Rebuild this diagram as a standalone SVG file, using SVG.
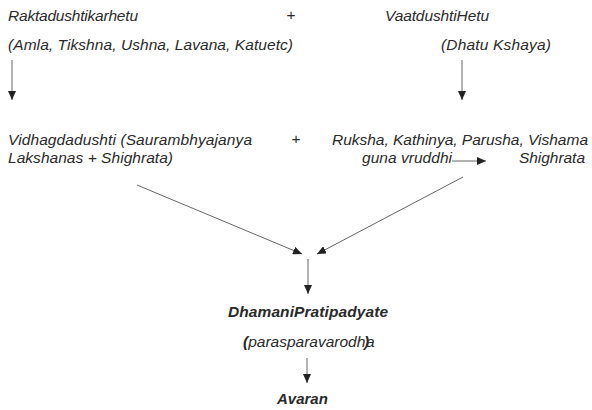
<svg xmlns="http://www.w3.org/2000/svg" width="592" height="410" viewBox="0 0 592 410">
<defs>
<marker id="ah" viewBox="0 0 9 8" refX="9" refY="4" markerWidth="9" markerHeight="8" markerUnits="userSpaceOnUse" orient="auto">
<path d="M0,0 L9,4 L0,8 z" fill="#222"/>
</marker>
<style>
text{font-family:"Liberation Sans",Arial,sans-serif;font-size:15.5px;font-style:italic;fill:#2a2a2a}
.b{font-weight:bold}
.u{font-style:normal}
.c line{stroke:#666;stroke-width:1;marker-end:url(#ah)}
</style>
</defs>
<rect width="592" height="410" fill="#fff"/>
<g id="n1"><text x="8" y="21" textLength="130">Raktadushtikarhetu</text><text x="8" y="50" textLength="285">(Amla, Tikshna, Ushna, Lavana, Katuetc)</text></g>
<g id="p1"><text class="u" x="291" y="20" text-anchor="middle">+</text></g>
<g id="n2"><text x="385" y="21" textLength="104">VaatdushtiHetu</text><text x="441" y="50" textLength="110">(Dhatu Kshaya)</text></g>
<g id="n3"><text x="8" y="145" textLength="244">Vidhagdadushti (Saurambhyajanya</text><text x="8" y="163" textLength="165">Lakshanas + Shighrata)</text></g>
<g id="p2"><text class="u" x="296" y="144" text-anchor="middle">+</text></g>
<g id="n4"><text x="332" y="145" textLength="256">Ruksha, Kathinya, Parusha, Vishama</text><text x="362" y="163" textLength="90">guna vruddhi</text><text x="519" y="163" textLength="66">Shighrata</text></g>
<g id="n5"><text class="b" x="228" y="317" textLength="160">DhamaniPratipadyate</text></g>
<g id="n6"><text x="243" y="347"><tspan class="b">(</tspan>parasparavarodh</text><text x="366" y="347">a</text><text class="b" x="364" y="347">)</text></g>
<g id="n7"><text class="b" x="277" y="404" style="font-size:15px">Avaran</text></g>
<g class="c" id="connectors">
<line x1="12" y1="60" x2="12" y2="100"/>
<line x1="462" y1="60" x2="462" y2="100"/>
<line x1="452" y1="161" x2="486" y2="161"/>
<line x1="137" y1="185" x2="302" y2="254"/>
<line x1="463" y1="177" x2="317" y2="254"/>
<line x1="308" y1="259" x2="308" y2="294"/>
<line x1="307" y1="358" x2="307" y2="383"/>
</g>
</svg>
